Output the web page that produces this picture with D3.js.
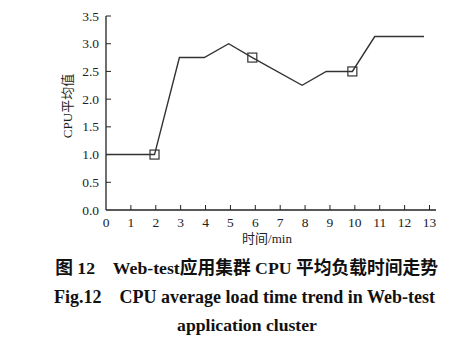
<!DOCTYPE html>
<html><head><meta charset="utf-8">
<script src="https://cdn.jsdelivr.net/npm/d3@7"></script>
<style>body{margin:0;background:#fff}</style>
</head><body>
<svg id="c" width="460" height="351"></svg>
<script>
const times = [0, 1.95, 2.95, 3.95, 4.93, 5.88, 7.88, 8.85, 9.9, 10.8, 12.78];
const loads = [1.0, 1.0, 2.75, 2.75, 3.0, 2.75, 2.25, 2.5, 2.5, 3.13, 3.13];
const markerIdx = [1, 5, 8];
const xTicks = [0,1,2,3,4,5,6,7,8,9,10,11,12,13];
const yTicks = [0,0.5,1.0,1.5,2.0,2.5,3.0,3.5];
const xLabel = "时间/min";
const yLabel = "CPU平均值";
const caption = ["图 12　Web-test应用集群 CPU 平均负载时间走势", "Fig.12　CPU average load time trend in Web-test", "application cluster"];

const svg = d3.select("#c");
const serif = "'Liberation Serif','Times New Roman','Noto Sans CJK SC'";
const x = d3.scaleLinear().domain([0,13]).range([106,429.5]);
const y = d3.scaleLinear().domain([0,3.5]).range([210,16]);
const ink = "#222";

// x axis
const gx = svg.append("g").attr("transform","translate(0,210)");
gx.append("line").attr("x1",106).attr("x2",436).attr("stroke",ink).attr("stroke-width",1.3);
gx.selectAll(".t").data(xTicks.slice(1)).join("line").attr("x1",d=>x(d)).attr("x2",d=>x(d)).attr("y1",0).attr("y2",-5).attr("stroke",ink).attr("stroke-width",1);
gx.selectAll("text").data(xTicks).join("text").attr("x",d=>x(d)).attr("y",17).attr("text-anchor","middle")
  .attr("font-family",serif).attr("font-size",13.5).attr("fill",ink).text(d=>d);

// y axis
const gy = svg.append("g");
gy.append("line").attr("x1",106).attr("x2",106).attr("y1",y(3.5)).attr("y2",210).attr("stroke",ink).attr("stroke-width",1.3);
gy.selectAll(".t").data(yTicks.slice(1)).join("line").attr("x1",106).attr("x2",111).attr("y1",d=>y(d)).attr("y2",d=>y(d)).attr("stroke",ink).attr("stroke-width",1);
gy.selectAll("text").data(yTicks).join("text").attr("x",99).attr("y",d=>y(d)+4.5).attr("text-anchor","end")
  .attr("font-family",serif).attr("font-size",13.5).attr("fill",ink).text(d=>d.toFixed(1));

svg.append("text").attr("x",267).attr("y",243).attr("text-anchor","middle").attr("font-family",serif)
  .attr("font-size",13).attr("fill",ink).text(xLabel);
svg.append("text").attr("transform","translate(72,106) rotate(-90)").attr("text-anchor","middle").attr("font-family",serif)
  .attr("font-size",13).attr("fill",ink).text(yLabel);

// line
const line = d3.line().x((d,i)=>x(times[i])).y(d=>y(d));
svg.append("path").datum(loads).attr("d",line).attr("fill","none").attr("stroke","#333").attr("stroke-width",1.4);
svg.selectAll(".m").data(markerIdx).join("rect").attr("x",i=>x(times[i])-4.5).attr("y",i=>y(loads[i])-4.5)
  .attr("width",9).attr("height",9).attr("fill","none").attr("stroke","#333").attr("stroke-width",1.2);

// caption
const cy = [274, 303, 331];
const cx = [246.5, 244.5, 247];
const widths = [383, 381, 140];
caption.forEach((t,i)=>{
  const el = svg.append("text").attr("x",cx[i]).attr("y",cy[i]).attr("text-anchor","middle")
    .attr("font-family",serif).attr("font-weight","bold").attr("font-size",15).attr("fill","#111").text(t);
  const w = el.node().getComputedTextLength();
  el.attr("font-size", 15*widths[i]/w);
});
</script>
</body></html>
